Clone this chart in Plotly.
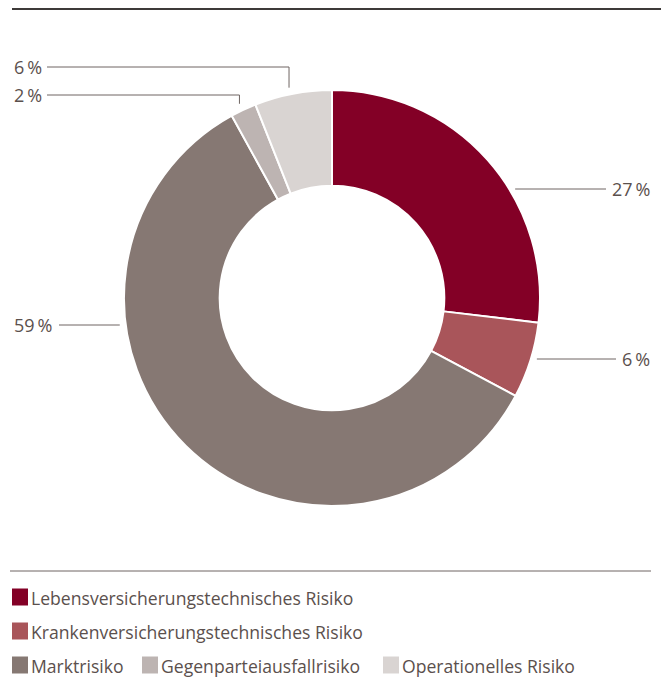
import math
import plotly.graph_objects as go

# ---- data ----
categories = [
    "Lebensversicherungstechnisches Risiko",
    "Krankenversicherungstechnisches Risiko",
    "Marktrisiko",
    "Gegenparteiausfallrisiko",
    "Operationelles Risiko",
]
shares = [26.9, 5.9, 59.2, 2.0, 6.0]
colors = ["#830026", "#a9555a", "#867873", "#bdb4b2", "#d9d4d2"]

# ---- layout constants (pixels) ----
W, H = 661, 684
CX, CY, R = 332, 298, 208
HOLE = 0.54
TEXT_COLOR = "#5b504d"
LINE_COLOR = "#6f6562"
FONT = "Open Sans"
PCT_SIZE = 18
LEG_SIZE = 17.6
# label placement: side and label y (px)
label_place = [("right", 189), ("right", 359), ("left", 325), ("top", 95), ("top", 67)]


def px(x):
    return x / W


def py(y):
    return 1 - y / H


fig = go.Figure()
fig.add_trace(go.Pie(
    labels=categories,
    values=shares,
    sort=False,
    direction="clockwise",
    rotation=0,
    hole=HOLE,
    marker=dict(colors=colors, line=dict(color="white", width=2)),
    textinfo="none",
    hoverinfo="label+percent",
    showlegend=False,
    domain=dict(x=[px(CX - R), px(CX + R)], y=[py(CY + R), py(CY - R)]),
))

shapes = []
annotations = []

# top rule
shapes.append(dict(type="line", xref="paper", yref="paper", x0=px(12), x1=1, y0=py(9), y1=py(9),
                   line=dict(color="#3e3a39", width=2)))
# bottom rule
shapes.append(dict(type="line", xref="paper", yref="paper", x0=px(10), x1=px(651), y0=py(571), y1=py(571),
                   line=dict(color=LINE_COLOR, width=1)))

total = sum(shares)
cum = 0.0
GAP = 6
for i, v in enumerate(shares):
    mid = (cum + v / 2) / total * 2 * math.pi
    cum += v
    text = f"{round(v / total * 100)}\u2009%"
    twidth = 10 * (len(text) - 2) + 21
    side, ly = label_place[i]
    if side == "right":
        edge_x = CX + math.sqrt(max(R * R - (ly - CY) ** 2, 0))
        lx = 652
        shapes.append(dict(type="line", xref="paper", yref="paper",
                           x0=px(edge_x + GAP), x1=px(lx - twidth - 5), y0=py(ly), y1=py(ly),
                           line=dict(color=LINE_COLOR, width=1)))
        annotations.append(dict(x=px(lx), y=py(ly), xref="paper", yref="paper", text=text,
                                showarrow=False, xanchor="right", yanchor="middle",
                                font=dict(family=FONT, size=PCT_SIZE, color=TEXT_COLOR)))
    elif side == "left":
        edge_x = CX - math.sqrt(max(R * R - (ly - CY) ** 2, 0))
        lx = 12
        shapes.append(dict(type="line", xref="paper", yref="paper",
                           x0=px(lx + twidth + 6), x1=px(edge_x - GAP), y0=py(ly), y1=py(ly),
                           line=dict(color=LINE_COLOR, width=1)))
        annotations.append(dict(x=px(lx), y=py(ly), xref="paper", yref="paper", text=text,
                                showarrow=False, xanchor="left", yanchor="middle",
                                font=dict(family=FONT, size=PCT_SIZE, color=TEXT_COLOR)))
    else:  # top: horizontal from left label, then down to the slice
        vx = CX + R * math.sin(mid) - 4
        vy = CY - R * math.cos(mid) - GAP
        lx = 12
        shapes.append(dict(type="path", xref="paper", yref="paper",
                           path=f"M {px(47)} {py(ly)} L {px(vx)} {py(ly)} L {px(vx)} {py(vy)}",
                           line=dict(color=LINE_COLOR, width=1)))
        annotations.append(dict(x=px(lx), y=py(ly), xref="paper", yref="paper", text=text,
                                showarrow=False, xanchor="left", yanchor="middle",
                                font=dict(family=FONT, size=PCT_SIZE, color=TEXT_COLOR)))

# custom legend: (row y, swatch x) per category
legend_place = [(598, 12), (632, 12), (666, 12), (666, 142), (666, 383)]
SW, SH = 16, 17
for name, col, (ry, sx) in zip(categories, colors, legend_place):
    shapes.append(dict(type="rect", xref="paper", yref="paper",
                       x0=px(sx), x1=px(sx + SW), y0=py(ry - SH / 2 - 1), y1=py(ry + SH / 2 - 1),
                       fillcolor=col, line=dict(width=0)))
    annotations.append(dict(x=px(sx + SW + 1), y=py(ry), xref="paper", yref="paper", text=name,
                            showarrow=False, xanchor="left", yanchor="middle",
                            font=dict(family=FONT, size=LEG_SIZE, color=TEXT_COLOR)))

fig.update_layout(
    width=W, height=H,
    margin=dict(l=0, r=0, t=0, b=0),
    paper_bgcolor="white",
    plot_bgcolor="white",
    shapes=shapes,
    annotations=annotations,
)

fig.write_html("out.html")
